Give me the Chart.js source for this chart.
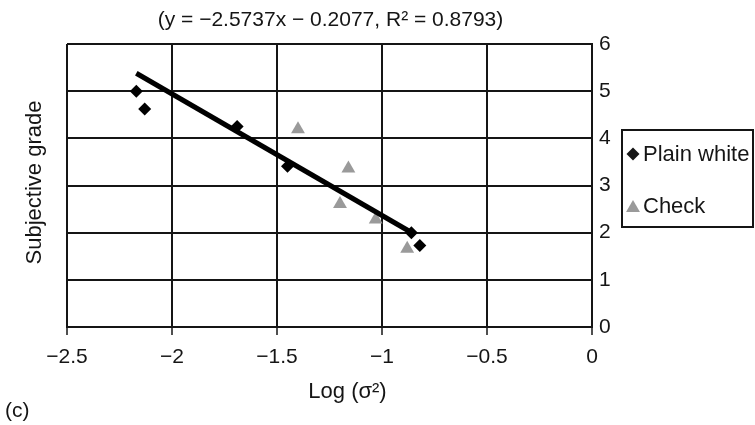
<!DOCTYPE html>
<html>
<head>
<meta charset="utf-8">
<style>
  html, body { margin: 0; padding: 0; background: #fff; }
  #wrap { width: 755px; height: 425px; }
</style>
<script src="https://cdn.jsdelivr.net/npm/chart.js"></script>
</head>
<body>
<div id="wrap"><canvas id="myChart" width="755" height="425"></canvas></div>
<script>
// values
const plainX = [-2.17, -2.13, -1.69, -1.45, -0.86, -0.82];
const plainY = [5.00, 4.62, 4.25, 3.41, 2.00, 1.73];
const checkX = [-1.40, -1.16, -1.20, -1.03, -0.88];
const checkY = [4.19, 3.36, 2.61, 2.28, 1.66];
// trend line end points (y = -2.5737x - 0.2077)
const trendX = [-2.17, -0.87];
const trendY = [5.38, 2.03];
const seriesNames = ['Plain white', 'Check'];
const xTicks = [-2.5, -2, -1.5, -1, -0.5, 0];
const yTicks = [0, 1, 2, 3, 4, 5, 6];
const chartTitle = '(y = \u22122.5737x \u2212 0.2077, R\u00b2 = 0.8793)';
const xTitle = 'Log (\u03c3\u00b2)';
const yTitle = 'Subjective grade';
const panelLabel = '(c)';

const FONT = '"Liberation Sans", Arial, Helvetica, sans-serif';
const INK = '#151515';
const GREY = '#9a9a9a';

const toPts = (xs, ys) => xs.map((x, i) => ({ x: x, y: ys[i] }));

function diamond(ctx, x, y, r) {
  ctx.beginPath();
  ctx.moveTo(x - r, y); ctx.lineTo(x, y - r); ctx.lineTo(x + r, y); ctx.lineTo(x, y + r);
  ctx.closePath(); ctx.fill();
}
function triangle(ctx, x, y, r) {
  ctx.beginPath();
  ctx.moveTo(x, y - r * 0.75);
  ctx.lineTo(x + r * 0.87, y + r * 0.75);
  ctx.lineTo(x - r * 0.87, y + r * 0.75);
  ctx.closePath(); ctx.fill();
}

// titles, panel label and the boxed legend
const extras = {
  id: 'extras',
  afterDraw(chart) {
    const ctx = chart.ctx;
    const a = chart.chartArea;
    ctx.save();
    ctx.fillStyle = INK;
    ctx.textAlign = 'center';
    ctx.textBaseline = 'middle';
    ctx.font = '21px ' + FONT;
    ctx.fillText(chartTitle, (a.left + a.right) / 2 + 1, a.top - 24);
    ctx.font = '22px ' + FONT;
    ctx.fillText(xTitle, (a.left + a.right) / 2 + 18, a.bottom + 65);
    ctx.save();
    ctx.translate(35, (a.top + a.bottom) / 2 - 3);
    ctx.rotate(-Math.PI / 2);
    ctx.fillText(yTitle, 0, 0);
    ctx.restore();
    ctx.textAlign = 'left';
    ctx.font = '21px ' + FONT;
    ctx.fillText(panelLabel, 5, 411);

    // legend
    const lx = a.right + 30, ly = 130, lw = 131, lh = 97;
    ctx.strokeStyle = INK;
    ctx.lineWidth = 2;
    ctx.strokeRect(lx, ly, lw, lh);
    ctx.font = '22px ' + FONT;
    ctx.fillStyle = INK;
    diamond(ctx, lx + 11, ly + 24, 6.5);
    ctx.fillText(seriesNames[0], lx + 21, ly + 25);
    ctx.fillStyle = GREY;
    triangle(ctx, lx + 11, ly + 76, 8);
    ctx.fillStyle = INK;
    ctx.fillText(seriesNames[1], lx + 21, ly + 77);
    ctx.restore();
  }
};

const minus = v => String(v).replace('-', '\u2212');

new Chart(document.getElementById('myChart'), {
  type: 'scatter',
  data: {
    datasets: [
      {
        label: 'trend',
        type: 'line',
        data: toPts(trendX, trendY),
        borderColor: '#000',
        borderWidth: 5,
        pointRadius: 0,
        fill: false,
        order: 0
      },
      {
        label: seriesNames[0],
        data: toPts(plainX, plainY),
        pointStyle: 'rectRot',
        pointRadius: 6.5,
        backgroundColor: '#000',
        borderColor: '#000',
        borderWidth: 0,
        order: 1
      },
      {
        label: seriesNames[1],
        data: toPts(checkX, checkY),
        pointStyle: 'triangle',
        pointRadius: 8,
        backgroundColor: GREY,
        borderColor: GREY,
        borderWidth: 0,
        order: 2
      }
    ]
  },
  options: {
    responsive: false,
    animation: false,
    devicePixelRatio: 1,
    layout: { padding: { left: 67, top: 44, right: 0, bottom: 0 } },
    plugins: {
      legend: { display: false },
      title: { display: false },
      tooltip: { enabled: false }
    },
    scales: {
      x: {
        type: 'linear',
        position: 'bottom',
        min: xTicks[0],
        max: xTicks[xTicks.length - 1],
        afterBuildTicks: s => { s.ticks = xTicks.map(v => ({ value: v })); },
        afterFit: s => { s.height = 98; },
        grid: { color: INK, lineWidth: 2, drawTicks: true, tickLength: 8, tickColor: INK, tickWidth: 1.5 },
        border: { display: true, color: INK, width: 2 },
        ticks: { color: INK, font: { size: 21, family: FONT }, padding: 10, callback: v => minus(v), maxRotation: 0 }
      },
      y: {
        type: 'linear',
        position: 'right',
        min: yTicks[0],
        max: yTicks[yTicks.length - 1],
        afterBuildTicks: s => { s.ticks = yTicks.map(v => ({ value: v })); },
        afterFit: s => { s.width = 163; },
        grid: { color: INK, lineWidth: 2, drawTicks: false },
        border: { display: true, color: INK, width: 2 },
        ticks: { color: INK, font: { size: 21, family: FONT }, padding: 7, callback: v => minus(v) }
      }
    }
  },
  plugins: [extras]
});
</script>
</body>
</html>
